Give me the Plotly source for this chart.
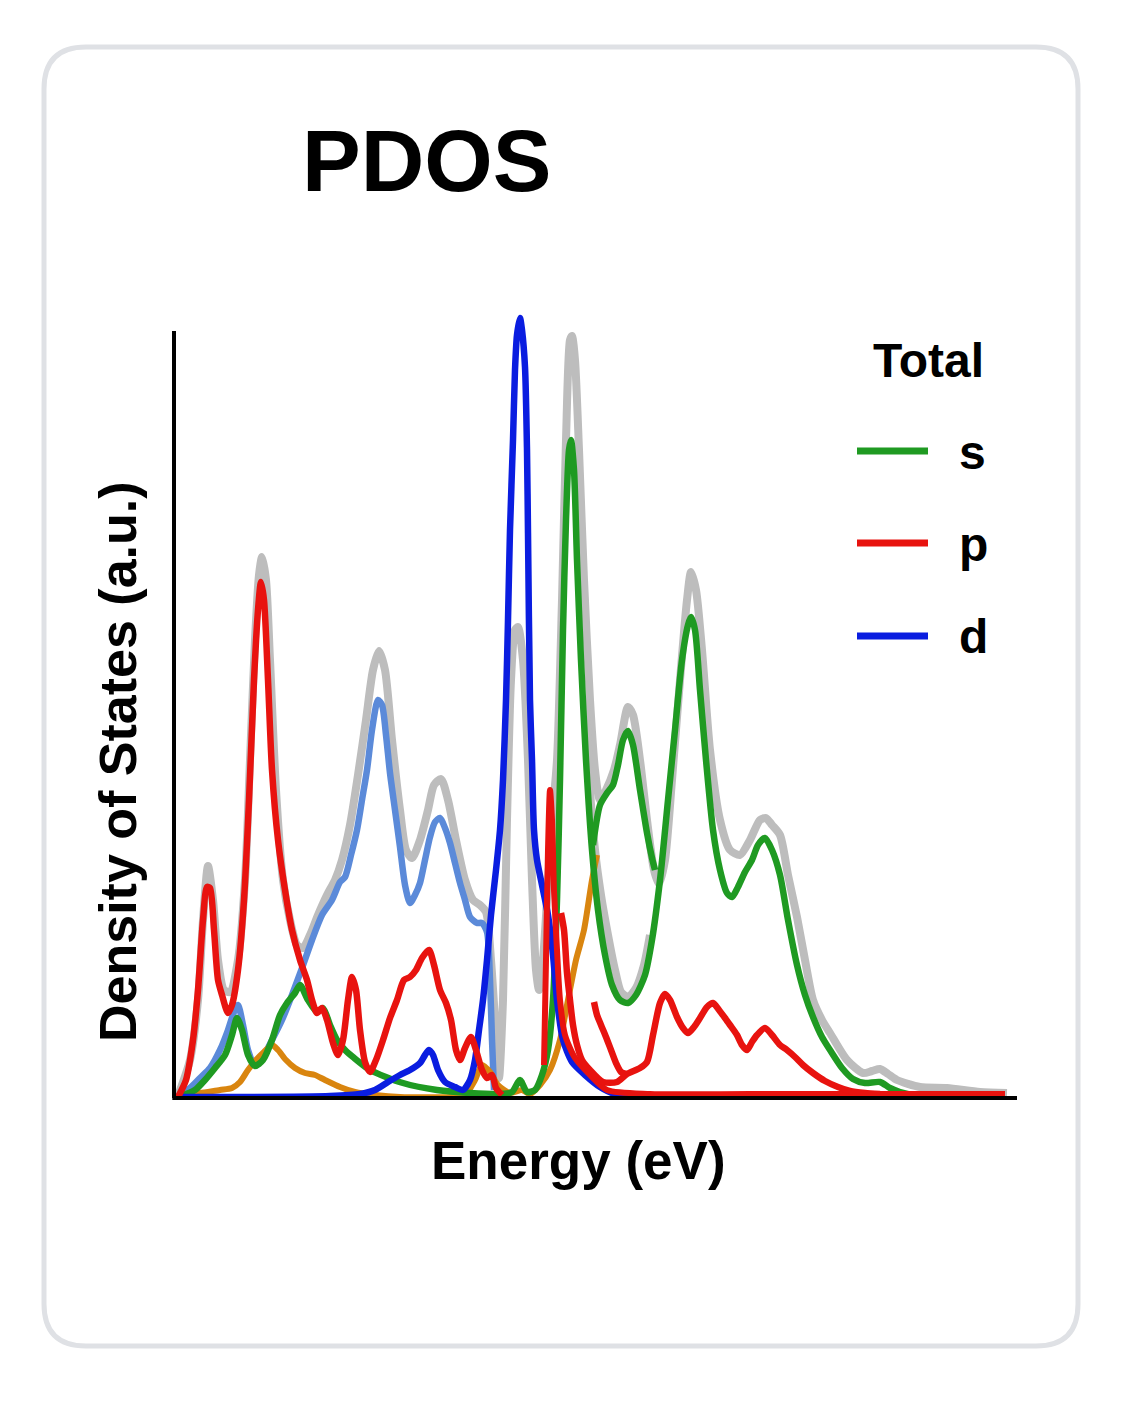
import plotly.graph_objects as go

# ---------------- data (energy in arbitrary grid units, DOS in a.u.) ----------------
total_E = [0.4, 1.6, 2.4, 2.9, 3.4, 3.9, 4.4, 5.0, 5.6, 6.4, 7.1, 7.6, 8.1, 8.5, 8.8, 9.2, 9.6, 10.2, 10.9,
           11.6, 12.3, 12.9, 13.6, 14.4, 15.3, 16.1, 16.8, 17.6, 18.4, 19.2, 19.9, 20.5, 21.1, 21.8, 22.6,
           23.2, 23.8, 24.6, 25.4, 26.0, 26.7, 27.4, 28.2, 29.1, 29.9, 30.6, 31.2, 31.7, 32.1, 32.5, 32.9,
           33.3, 33.7, 34.1, 34.4, 34.9, 35.4, 35.8, 36.2, 36.5, 36.9, 37.3, 37.8, 38.3, 38.8, 39.2, 39.6,
           39.8, 40.1, 40.5, 41.0, 41.6, 42.1, 42.6, 43.2, 44.0, 44.6, 45.4, 45.9, 46.6, 47.3, 48.0, 48.5,
           49.1, 49.8, 50.6, 51.3, 51.7, 52.2, 52.8, 53.6, 54.6, 55.6, 56.6, 57.6, 58.6, 59.2, 59.8, 60.6,
           61.4, 62.3, 63.1, 63.9, 64.8, 65.6, 67.3, 68.9, 69.8, 70.6, 71.4, 72.3, 74.6, 77.3, 80.6, 83.3]
total_dos = [0.2, 3.8, 9.8, 17.8, 23.2, 19.8, 13.8, 10.8, 10.6, 13.8, 21.8, 33.8, 45.8, 52.3, 54.1, 51.8, 43.8,
             30.8, 21.8, 17.8, 15.3, 15.0, 16.3, 18.3, 20.3, 21.8, 23.8, 27.3, 32.3, 37.8, 42.8, 44.7, 42.8,
             35.8, 28.8, 24.8, 24.0, 25.8, 28.8, 31.3, 31.9, 29.8, 25.8, 21.8, 19.8, 19.3, 18.6, 13.8, 7.8,
             2.0, 9.8, 27.8, 41.8, 46.8, 47.1, 43.8, 33.8, 21.8, 12.8, 10.8, 13.8, 19.8, 27.8, 33.8, 49.8,
             65.8, 75.8, 76.2, 73.8, 64.8, 51.8, 39.8, 32.8, 29.8, 30.8, 32.8, 35.3, 39.1, 38.3, 33.8, 27.8,
             22.8, 21.4, 23.8, 31.8, 41.8, 49.8, 52.6, 50.8, 44.8, 34.8, 27.8, 24.8, 24.3, 25.8, 27.8, 28.0,
             27.3, 26.3, 22.3, 18.1, 13.8, 9.8, 7.8, 6.5, 3.8, 2.5, 2.7, 2.9, 2.4, 1.8, 1.1, 1.0, 0.6, 0.5]

total_b_E = [41.2, 41.6, 42.1, 42.7, 43.4, 44.1, 44.7, 45.4, 46.2, 47.0, 47.6]
total_b_dos = [39.8, 30.8, 24.8, 20.3, 16.3, 12.8, 10.6, 10.1, 11.0, 13.3, 16.3]

s_E = [0.4, 2.1, 3.1, 4.1, 5.1, 5.8, 6.3, 6.8, 7.4, 8.1, 8.9, 9.8, 10.6, 11.3, 12.1, 12.6, 13.4, 14.3, 14.9,
       15.6, 16.3, 17.1, 17.9, 19.6, 22.9, 26.3, 29.6, 32.6, 33.8, 34.6, 35.3, 36.1, 36.8, 37.4, 37.9, 38.3,
       38.6, 38.9, 39.2, 39.5, 39.7, 40.0, 40.3, 40.7, 41.2, 41.8, 42.4, 43.1, 43.8, 44.6, 45.4, 46.2, 47.1,
       47.8, 48.6, 49.4, 50.1, 50.8, 51.4, 51.7, 52.1, 52.6, 53.2, 53.9, 54.6, 55.3, 55.8, 56.4, 57.1, 57.8,
       58.4, 59.1, 59.8, 60.6, 61.4, 62.3, 63.1, 63.9, 64.8, 65.6, 66.8, 67.9, 69.1, 70.6, 71.6, 72.6, 74.6, 77.1]
s_dos = [0.1, 0.8, 1.8, 3.0, 4.3, 6.3, 8.0, 6.8, 4.3, 3.2, 3.8, 5.8, 8.3, 9.5, 10.5, 11.3, 9.8, 8.6, 9.0,
         7.3, 5.8, 4.8, 4.1, 2.8, 1.5, 0.8, 0.5, 0.4, 0.6, 1.8, 0.6, 0.8, 2.3, 4.8, 9.8, 19.8,
         31.8, 46.8, 57.8, 64.8, 65.8, 62.8, 53.8, 43.8, 33.8, 24.8, 18.8, 14.3, 11.3, 9.8, 9.5, 10.3, 12.3,
         15.8, 21.8, 29.8, 36.8, 43.8, 47.3, 48.1, 46.8, 40.8, 33.8, 26.8, 22.8, 20.5, 20.1, 21.1, 22.6, 23.8,
         25.3, 26.0, 24.8, 22.3, 17.8, 13.3, 10.3, 8.1, 6.1, 4.8, 3.0, 1.9, 1.5, 1.6, 1.0, 0.6, 0.2, 0.1]

s_b_E = [41.9, 42.6, 43.3, 43.9, 44.4, 44.9, 45.4, 45.9, 46.6, 47.3, 47.8, 48.1]
s_b_dos = [25.3, 29.3, 30.5, 31.3, 33.3, 35.8, 36.7, 35.3, 30.8, 26.5, 24.0, 22.8]

p_E = [0.4, 1.2, 1.9, 2.4, 2.9, 3.3, 3.6, 4.0, 4.4, 4.8, 5.4, 5.8, 6.4, 7.0, 7.5, 8.0, 8.4, 8.7, 9.0, 9.4,
       9.8, 10.4, 11.1, 11.8, 12.6, 13.3, 13.8, 14.3, 14.8, 15.3, 15.9, 16.4, 16.9, 17.4, 17.8, 18.2, 18.6,
       19.1, 19.6, 20.2, 20.9, 21.6, 22.3, 23.0, 23.6, 24.2, 24.8, 25.5, 26.0, 26.6, 27.2, 27.7, 28.2, 28.6,
       29.1, 29.7, 30.2, 30.8, 31.3, 31.8, 32.2, 32.8]
p_dos = [0.1, 1.8, 5.8, 10.8, 17.8, 21.1, 21.0, 16.8, 11.8, 10.3, 8.5, 9.3, 12.8, 19.8, 29.8, 41.8, 48.8, 51.6,
         49.8, 41.8, 32.8, 25.8, 20.8, 16.8, 13.8, 11.8, 9.8, 8.5, 9.0, 7.8, 5.5, 4.3, 5.8, 9.8, 12.1, 10.8,
         6.8, 3.6, 2.6, 3.8, 5.8, 8.0, 9.8, 11.8, 12.1, 12.8, 14.0, 14.8, 13.3, 10.8, 9.5, 7.8, 4.8, 3.8,
         5.0, 6.1, 4.8, 2.8, 2.0, 2.3, 1.0, 0.3]

p_b_E = [37.0, 37.2, 37.4, 37.6, 37.8, 38.0, 38.3, 38.6, 39.1, 40.1, 41.6, 43.3, 47.6, 57.6, 70.6, 83.1]
p_b_dos = [3.3, 13.8, 24.8, 30.8, 27.8, 20.8, 14.8, 9.8, 6.3, 4.0, 2.3, 0.8, 0.4, 0.4, 0.4, 0.4]

p_c_E = [38.7, 39.0, 39.3, 39.6, 39.9, 40.3, 40.8, 41.6, 42.9, 44.3, 45.3, 46.6, 47.3, 47.9, 48.6, 49.1,
         49.6, 50.3, 50.9, 51.4, 52.0, 52.6, 53.3, 53.9, 54.5, 55.1, 55.6, 56.3, 56.8, 57.3, 57.8, 58.3,
         59.1, 59.8, 60.6, 61.3, 62.1, 62.9, 63.9, 65.1, 66.4, 67.6, 69.1, 70.6]
p_c_dos = [18.5, 16.8, 12.5, 9.8, 7.3, 5.3, 3.8, 2.8, 1.6, 1.6, 2.4, 3.0, 3.6, 6.3, 9.5, 10.4,
           9.8, 8.1, 7.0, 6.5, 7.1, 8.0, 9.1, 9.5, 8.8, 8.0, 7.3, 6.3, 5.3, 4.8, 5.6, 6.3,
           7.0, 6.3, 5.3, 4.8, 4.1, 3.3, 2.5, 1.7, 1.1, 0.7, 0.5, 0.4]

p_d_E = [42.0, 42.3, 42.7, 43.2, 43.7, 44.2, 44.7, 45.2]
p_d_dos = [9.6, 8.3, 7.3, 6.1, 4.8, 3.5, 2.6, 2.4]

d_E = [0.0, 7.6, 15.6, 18.6, 20.1, 21.4, 22.6, 23.6, 24.6, 25.1, 25.5, 25.9, 26.4, 27.1, 28.1, 28.9, 29.6,
       30.1, 30.5, 30.9, 31.3, 31.7, 32.2, 32.6, 32.9, 33.2, 33.4, 33.6, 33.9, 34.1, 34.3, 34.6, 34.8, 35.1,
       35.3, 35.4, 35.6, 35.8, 36.0, 36.3, 36.8, 37.4, 37.9, 38.3, 38.9, 39.8, 41.1, 42.6, 44.1, 46.6]
d_dos = [0.1, 0.1, 0.2, 0.4, 0.8, 1.6, 2.3, 2.8, 3.5, 4.3, 4.8, 4.3, 2.8, 1.6, 1.1, 0.8, 1.8,
         3.8, 6.8, 9.8, 13.8, 18.3, 22.8, 26.8, 31.8, 39.8, 47.8, 56.8, 65.8, 72.8, 76.3, 78.0, 76.8, 73.1,
         64.8, 56.5, 39.8, 33.8, 26.8, 23.8, 21.3, 18.3, 14.3, 9.8, 5.8, 3.6, 2.3, 1.1, 0.4, 0.2]

d2_E = [0.4, 1.6, 2.6, 3.6, 4.6, 5.4, 6.0, 6.4, 6.9, 7.4, 8.0, 8.8, 9.8, 10.8, 11.8, 12.8, 13.8, 14.8, 15.8,
        16.6, 17.1, 17.7, 18.3, 18.8, 19.3, 19.8, 20.4, 20.8, 21.2, 21.6, 22.1, 22.6, 23.1, 23.6, 24.1, 24.6,
        25.1, 25.6, 26.1, 26.6, 27.1, 27.6, 28.1, 28.6, 29.1, 29.6, 30.3, 30.8, 31.3, 31.6, 31.8, 32.0]
d2_dos = [0.1, 1.0, 2.0, 3.0, 4.8, 6.8, 8.6, 9.3, 7.3, 4.8, 3.5, 4.0, 5.8, 7.8, 10.3, 13.0, 15.8, 18.3, 19.8,
          21.6, 22.1, 24.3, 26.8, 29.8, 32.8, 36.8, 39.8, 39.3, 36.3, 32.5, 28.8, 25.1, 21.3, 19.5, 20.3, 21.5,
          23.8, 26.1, 27.6, 28.0, 27.0, 25.5, 23.5, 21.5, 19.8, 18.1, 17.5, 17.5, 16.6, 11.8, 5.8, 0.8]

f_E = [0.4, 2.6, 4.6, 5.8, 6.6, 7.4, 8.2, 9.0, 9.8, 10.4, 11.2, 12.1, 13.1, 14.1, 15.1, 16.6, 18.1, 20.1,
       22.6, 27.6, 29.1, 30.1, 30.8, 31.6, 32.4, 33.6, 34.8, 35.6, 36.6, 37.6, 38.6, 39.4, 40.2, 41.0, 41.8, 42.3]
f_dos = [0.1, 0.5, 0.8, 1.0, 1.6, 2.8, 3.8, 4.6, 5.3, 4.8, 3.8, 3.0, 2.5, 2.3, 1.8, 1.1, 0.6, 0.3,
         0.1, 0.1, 0.3, 1.8, 3.3, 2.6, 1.3, 0.5, 0.8, 0.4, 1.3, 2.8, 5.8, 9.8, 13.8, 16.8, 21.8, 24.3]

legend_labels = ["s", "p", "d"]
title_text = "PDOS"
x_title = "Energy (eV)"
y_title = "Density of States (a.u.)"

# ---------------- styling ----------------
GRAY = "#bdbdbd"
GREEN = "#1f9a22"
RED = "#e8130f"
BLUE = "#0a1de0"
LBLUE = "#5b8ad9"
ORANGE = "#d9850f"
FONT = "Liberation Sans, Arial, sans-serif"
LW = 6.5

fig = go.Figure()


def add(x, y, color, width, name, show=False):
    fig.add_trace(go.Scatter(x=x, y=y, mode="lines", name=name, showlegend=show,
                             line=dict(color=color, width=width, shape="spline", smoothing=0.7),
                             hoverinfo="skip"))


add(total_E, total_dos, GRAY, 8, "Total")
add(total_b_E, total_b_dos, GRAY, 8, "Total")
add(d2_E, d2_dos, LBLUE, LW, "d (2)")
add(f_E, f_dos, ORANGE, LW - 0.5, "f")
add(s_E, s_dos, GREEN, LW, "s")
add(s_b_E, s_b_dos, GREEN, LW, "s")
add(d_E, d_dos, BLUE, LW, "d")
add(p_E, p_dos, RED, LW, "p")
add(p_b_E, p_b_dos, RED, LW - 0.5, "p")
add(p_c_E, p_c_dos, RED, LW, "p")
add(p_d_E, p_d_dos, RED, LW, "p")

# ---------------- layout geometry (pixels -> paper) ----------------
L, R, T, B = 174, 105, 310, 304
W, H = 1122, 1402
PW, PH = W - L - R, H - T - B


def px(xp):
    return (xp - L) / PW


def py(yp):
    return (H - B - yp) / PH


shapes = []
# card with rounded corners
x0, x1, y0, y1 = px(44), px(1078), py(1346), py(47)
rx, ry = 42 / PW, 42 / PH
card_path = (f"M {x0+rx},{y1} L {x1-rx},{y1} Q {x1},{y1} {x1},{y1-ry} "
             f"L {x1},{y0+ry} Q {x1},{y0} {x1-rx},{y0} L {x0+rx},{y0} "
             f"Q {x0},{y0} {x0},{y0+ry} L {x0},{y1-ry} Q {x0},{y1} {x0+rx},{y1} Z")
shapes.append(dict(type="path", xref="paper", yref="paper", path=card_path,
                   line=dict(color="#dfe1e5", width=5), fillcolor="white", layer="below"))
# axes lines
shapes.append(dict(type="line", xref="paper", yref="paper", x0=0, x1=0, y0=0, y1=py(331),
                   line=dict(color="black", width=4), layer="above"))
shapes.append(dict(type="line", xref="paper", yref="paper", x0=-0.002, x1=1, y0=0, y1=0,
                   line=dict(color="black", width=4), layer="above"))
# legend line samples
for yy, col in zip([451, 543, 636], [GREEN, RED, BLUE]):
    shapes.append(dict(type="line", xref="paper", yref="paper", x0=px(857), x1=px(928),
                       y0=py(yy), y1=py(yy), line=dict(color=col, width=7)))

annotations = [
    dict(text=f"<b>{title_text}</b>", x=px(426), y=py(161), xref="paper", yref="paper",
         showarrow=False, xanchor="center", yanchor="middle", font=dict(size=88, color="black", family=FONT)),
    dict(text=f"<b>{x_title}</b>", x=px(578), y=py(1160), xref="paper", yref="paper",
         showarrow=False, xanchor="center", yanchor="middle", font=dict(size=53, color="black", family=FONT)),
    dict(text=f"<b>{y_title}</b>", x=px(118), y=py(762), xref="paper", yref="paper", textangle=-90,
         showarrow=False, xanchor="center", yanchor="middle", font=dict(size=52, color="black", family=FONT)),
    dict(text="<b>Total</b>", x=px(986), y=py(360), xref="paper", yref="paper",
         showarrow=False, xanchor="right", yanchor="middle", font=dict(size=48, color="black", family=FONT)),
]
for lab, yy in zip(legend_labels, [452, 544, 636]):
    annotations.append(dict(text=f"<b>{lab}</b>", x=px(957), y=py(yy), xref="paper", yref="paper",
                            showarrow=False, xanchor="left", yanchor="middle",
                            font=dict(size=48, color="black", family=FONT)))

fig.update_layout(
    width=W, height=H, autosize=False,
    margin=dict(l=L, r=R, t=T, b=B, pad=0),
    paper_bgcolor="white", plot_bgcolor="rgba(0,0,0,0)",
    showlegend=False,
    xaxis=dict(range=[0, 84.3], showgrid=False, zeroline=False, showticklabels=False, showline=False,
               ticks="", fixedrange=True),
    yaxis=dict(range=[0, 78.8], showgrid=False, zeroline=False, showticklabels=False, showline=False,
               ticks="", fixedrange=True),
    shapes=shapes, annotations=annotations,
)

fig.write_html("out.html")
